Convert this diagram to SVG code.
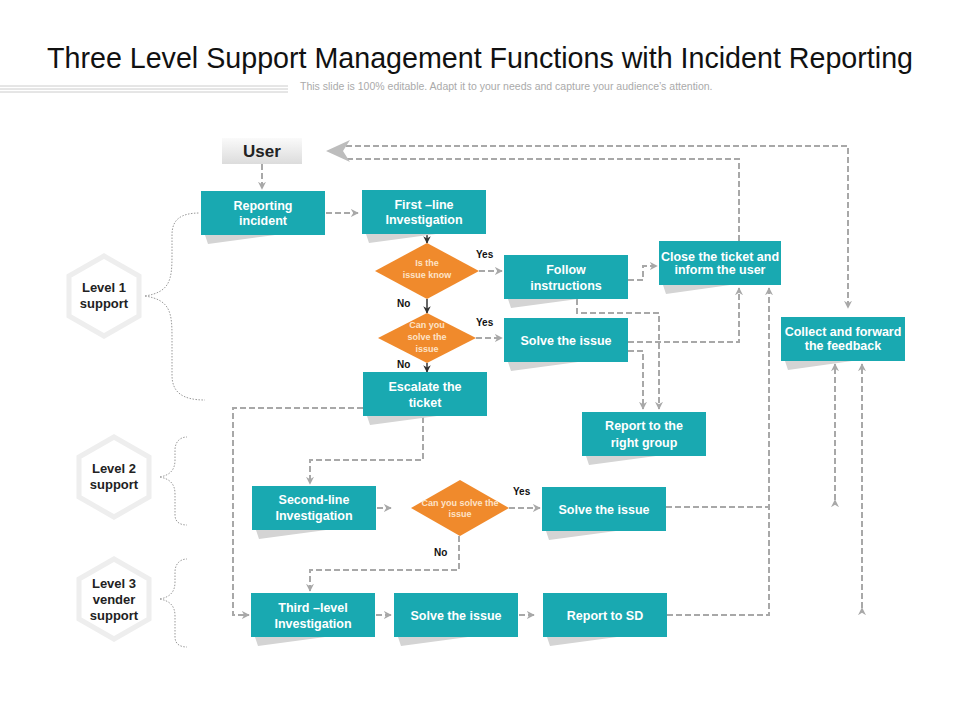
<svg xmlns="http://www.w3.org/2000/svg" width="960" height="720" viewBox="0 0 960 720">
<defs>
<style>
.box{fill:#19a9b1}
.sh{fill:#d4d4d4}
.bt{font-family:"Liberation Sans Narrow","Liberation Sans",sans-serif;font-weight:bold;fill:#fff;text-anchor:middle;font-size:12.5px}
.dt{font-family:"Liberation Sans Narrow","Liberation Sans",sans-serif;font-weight:bold;fill:#fde3c8;text-anchor:middle;font-size:9px}
.lb{font-family:"Liberation Sans Narrow","Liberation Sans",sans-serif;font-weight:bold;fill:#111;font-size:10px}
.ht{font-family:"Liberation Sans Narrow","Liberation Sans",sans-serif;font-weight:bold;fill:#222;text-anchor:middle;font-size:13px}
.dia{fill:#f08a2c}
.c{fill:none;stroke:#a8a8a8;stroke-width:2;stroke-dasharray:6 3}
.d{fill:none;stroke:#333;stroke-width:1.5}
.br{fill:none;stroke:#999;stroke-width:1;stroke-dasharray:1.5 1.5}
.hex{fill:#fff;stroke:#eee;stroke-width:5}
</style>
<marker id="a" viewBox="0 0 10 10" refX="9" refY="5" markerWidth="4" markerHeight="4" orient="auto"><path d="M0,0 L10,5 L0,10 L3,5z" fill="#a8a8a8"/></marker>
<marker id="k" viewBox="0 0 10 10" refX="9" refY="5" markerWidth="5" markerHeight="5" orient="auto"><path d="M0,0 L10,5 L0,10 L3,5z" fill="#333"/></marker>
<linearGradient id="ug" x1="0" y1="0" x2="0" y2="1"><stop offset="0" stop-color="#fafafa"/><stop offset="1" stop-color="#dcdcdc"/></linearGradient>
</defs>
<rect width="960" height="720" fill="#fff"/>
<text x="480" y="68" text-anchor="middle" font-family="Liberation Sans Narrow,Liberation Sans,sans-serif" font-size="30" fill="#111" textLength="866" lengthAdjust="spacingAndGlyphs">Three Level Support Management Functions with Incident Reporting</text>
<g stroke="#ccc" stroke-width="1"><line x1="0" y1="86" x2="288" y2="86"/><line x1="0" y1="89" x2="288" y2="89"/><line x1="0" y1="92" x2="288" y2="92"/></g>
<text x="300" y="90" font-family="Liberation Sans,sans-serif" font-size="10.5" fill="#aaa">This slide is 100% editable. Adapt it to your needs and capture your audience’s attention.</text>

<g id="connectors">
<path class="c" d="M262,164 V189" marker-end="url(#a)"/>
<path class="c" d="M326,213 H358" marker-end="url(#a)"/>
<path class="d" d="M427,234 V243" marker-end="url(#k)"/>
<path class="d" d="M427,299 V313" marker-end="url(#k)"/>
<path class="d" d="M427,363 V372" marker-end="url(#k)"/>
<path class="c" d="M479,271 H502" marker-end="url(#a)"/>
<path class="c" d="M476,338 H502" marker-end="url(#a)"/>
<path class="c" d="M628,280 H643 V266 H657" marker-end="url(#a)"/>
<path class="c" d="M577,299 V313 H659 V409" marker-end="url(#a)"/>
<path class="c" d="M628,351 H643 V409" marker-end="url(#a)"/>
<path class="c" d="M628,342 H739 V288" marker-end="url(#a)"/>
<path class="c" d="M739,241 V159 H346"/>
<path class="c" d="M346,146 H848 V308" marker-end="url(#a)"/>
<path d="M326,151 L350,140 L343,151 L350,162z" fill="#bdbdbd"/>
<path class="c" d="M666,507 H769"/>
<path class="c" d="M667,615 H769 V288" marker-end="url(#a)"/>
<path class="c" d="M835,500 V364" marker-start="url(#a)" marker-end="url(#a)"/>
<path class="c" d="M862,608 V364" marker-start="url(#a)" marker-end="url(#a)"/>
<path class="c" d="M423,417 V460 H310 V484" marker-end="url(#a)"/>
<path class="c" d="M363,408 H233 V615 H249" marker-end="url(#a)"/>
<path class="c" d="M377,508 H391" marker-end="url(#a)"/>
<path class="c" d="M509,508 H540" marker-end="url(#a)"/>
<path class="c" d="M459,536 V570 H310 V591" marker-end="url(#a)"/>
<path class="c" d="M376,615 H391" marker-end="url(#a)"/>
<path class="c" d="M519,615 H534" marker-end="url(#a)"/>
<path class="br" d="M145,296 C170,292 172,280 172,255 V235 C172,220 180,213 200,213"/>
<path class="br" d="M145,296 C170,300 172,312 172,337 V375 C172,392 182,400 205,400"/>
<path class="br" d="M160,477 C170,475 175,470 175,460 V450 C175,442 180,437 187,437 M160,477 C170,479 175,484 175,494 V515 C175,522 180,525 187,525"/>
<path class="br" d="M160,599 C170,597 175,592 175,582 V572 C175,564 180,559 187,559 M160,599 C170,601 175,606 175,616 V637 C175,644 180,647 187,647"/>
</g>
<g class="lb">
<text x="476" y="258">Yes</text><text x="476" y="326">Yes</text>
<text x="397" y="307">No</text><text x="397" y="368">No</text>
<text x="513" y="495">Yes</text><text x="434" y="556">No</text>
</g>

<g id="user"><rect x="222" y="138" width="80" height="26" fill="url(#ug)"/><text x="262" y="157" text-anchor="middle" font-family="Liberation Sans Narrow,Liberation Sans,sans-serif" font-weight="bold" font-size="17" fill="#222">User</text></g>

<g id="reporting"><polygon class="sh" points="205,235 208,244 275,235"/><rect class="box" x="201" y="191" width="124" height="44"/><text class="bt" x="263" y="210">Reporting</text><text class="bt" x="263" y="225">incident</text></g>
<g id="firstline"><polygon class="sh" points="366,234 369,243 436,234"/><rect class="box" x="362" y="190" width="124" height="44"/><text class="bt" x="424" y="209">First –line</text><text class="bt" x="424" y="224">Investigation</text></g>
<g id="d1"><polygon class="dia" points="427,243 479,271 427,299 375,271"/><text class="dt" x="427" y="266">Is the</text><text class="dt" x="427" y="278">issue know</text></g>
<g id="d2"><polygon class="dia" points="427,313 476,338 427,363 378,338"/><text class="dt" x="427" y="328">Can you</text><text class="dt" x="427" y="340">solve the</text><text class="dt" x="427" y="352">issue</text></g>
<g id="escalate"><polygon class="sh" points="367,416 370,425 437,416"/><rect class="box" x="363" y="372" width="124" height="44"/><text class="bt" x="425" y="391">Escalate the</text><text class="bt" x="425" y="407">ticket</text></g>
<g id="follow"><polygon class="sh" points="508,299 511,308 578,299"/><rect class="box" x="504" y="255" width="124" height="44"/><text class="bt" x="566" y="274">Follow</text><text class="bt" x="566" y="290">instructions</text></g>
<g id="solve1"><polygon class="sh" points="508,362 511,371 578,362"/><rect class="box" x="504" y="318" width="124" height="44"/><text class="bt" x="566" y="345">Solve the issue</text></g>
<g id="close"><polygon class="sh" points="663,285 666,294 730,285"/><rect class="box" x="659" y="241" width="122" height="44"/><text class="bt" x="720" y="261" font-size="10">Close the ticket and</text><text class="bt" x="720" y="274" font-size="10">inform the user</text></g>
<g id="collect"><polygon class="sh" points="785,361 788,370 852,361"/><rect class="box" x="781" y="317" width="124" height="44"/><text class="bt" x="843" y="336" font-size="11">Collect and forward</text><text class="bt" x="843" y="350" font-size="11">the feedback</text></g>
<g id="rightgroup"><polygon class="sh" points="586,456 589,465 656,456"/><rect class="box" x="582" y="412" width="124" height="44"/><text class="bt" x="644" y="430">Report to the</text><text class="bt" x="644" y="447">right group</text></g>
<g id="second"><polygon class="sh" points="256,530 259,539 326,530"/><rect class="box" x="252" y="486" width="124" height="44"/><text class="bt" x="314" y="504">Second-line</text><text class="bt" x="314" y="520">Investigation</text></g>
<g id="d3"><polygon class="dia" points="460,480 509,508 460,536 411,508"/><text class="dt" x="460" y="506" font-size="8">Can you solve the</text><text class="dt" x="460" y="517" font-size="8">issue</text></g>
<g id="solve2"><polygon class="sh" points="546,531 549,540 616,531"/><rect class="box" x="542" y="487" width="124" height="44"/><text class="bt" x="604" y="514">Solve the issue</text></g>
<g id="third"><polygon class="sh" points="255,637 258,646 325,637"/><rect class="box" x="251" y="593" width="124" height="44"/><text class="bt" x="313" y="612">Third –level</text><text class="bt" x="313" y="628">Investigation</text></g>
<g id="solve3"><polygon class="sh" points="398,637 401,646 468,637"/><rect class="box" x="394" y="593" width="124" height="44"/><text class="bt" x="456" y="620">Solve the issue</text></g>
<g id="reportsd"><polygon class="sh" points="547,637 550,646 617,637"/><rect class="box" x="543" y="593" width="124" height="44"/><text class="bt" x="605" y="620">Report to SD</text></g>

<g id="level1"><polygon class="hex" points="104,256 139,276 139,316 104,336 69,316 69,276"/><text class="ht" x="104" y="292">Level 1</text><text class="ht" x="104" y="308">support</text></g>
<g id="level2"><polygon class="hex" points="114,437 149,457 149,497 114,517 79,497 79,457"/><text class="ht" x="114" y="473">Level 2</text><text class="ht" x="114" y="489">support</text></g>
<g id="level3"><polygon class="hex" points="114,559 149,579 149,619 114,639 79,619 79,579"/><text class="ht" x="114" y="588">Level 3</text><text class="ht" x="114" y="604">vender</text><text class="ht" x="114" y="620">support</text></g>
</svg>
